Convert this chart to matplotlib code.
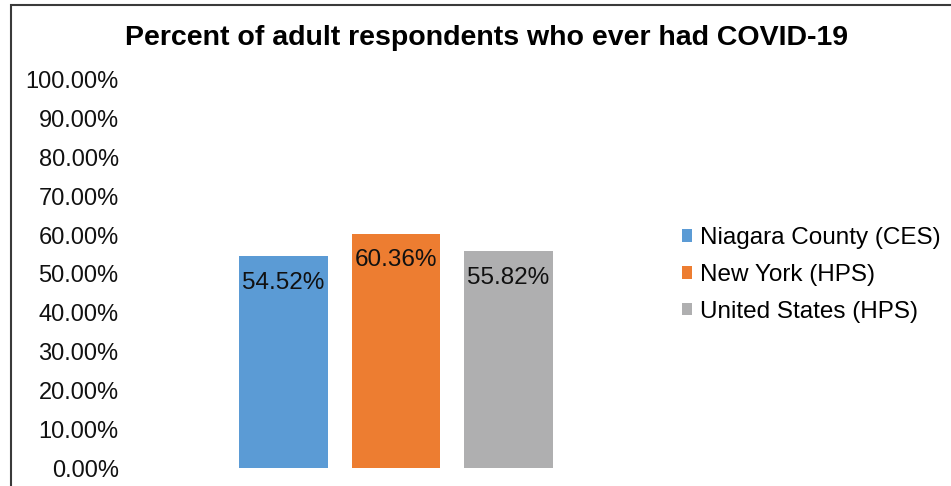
import matplotlib.pyplot as plt
from matplotlib.patches import Rectangle
from matplotlib.ticker import FuncFormatter

# data
series = ["Niagara County (CES)", "New York (HPS)", "United States (HPS)"]
values = [54.52, 60.36, 55.82]
colors = ["#5B9BD5", "#ED7D31", "#AFAFB0"]
positions = [-1, 0, 1]
yticks = [0, 10, 20, 30, 40, 50, 60, 70, 80, 90, 100]

plt.rcParams['font.family'] = ['Liberation Sans', 'DejaVu Sans']

W, H = 951, 486
fig = plt.figure(figsize=(W / 100, H / 100), dpi=100)
ax = fig.add_axes([127 / W, 18 / H, 538 / W, 388 / H])

for p, v, c, s in zip(positions, values, colors, series):
    ax.bar(p, v, width=0.79, color=c, label=s)
    ax.annotate(f"{v:.2f}%", (p, v), xytext=(0, -19), textcoords='offset points',
                ha='center', va='center', fontsize=17.5, color='#111111')

ax.set_xlim(-2.391, 2.391)
ax.set_ylim(0, 100)
ax.set_yticks(yticks)
ax.yaxis.set_major_formatter(FuncFormatter(lambda v, _: f"{v:.2f}%"))
ax.tick_params(axis='y', length=0, pad=6, labelsize=17, labelcolor='#111111')
ax.set_xticks([])
for sp in ax.spines.values():
    sp.set_visible(False)

fig.text(486.5 / W, 1 - 38 / H, "Percent of adult respondents who ever had COVID-19",
         ha='center', va='center', fontsize=20.5, fontweight='bold')

fig.legend(loc='center left', bbox_to_anchor=(682 / W, 1 - 275 / H), frameon=False,
           fontsize=17.5, handlelength=0.42, handleheight=0.42, handletextpad=0.33,
           labelspacing=0.6, borderpad=0, borderaxespad=0)

# outer chart border (only left and top edges visible)
fig.add_artist(Rectangle((11 / W, -0.1), 1.2, 1 - 5 / H + 0.1, transform=fig.transFigure,
                         fill=False, edgecolor='#3a3a3a', linewidth=1.5, clip_on=False))

fig.savefig('out.png', dpi=100)
